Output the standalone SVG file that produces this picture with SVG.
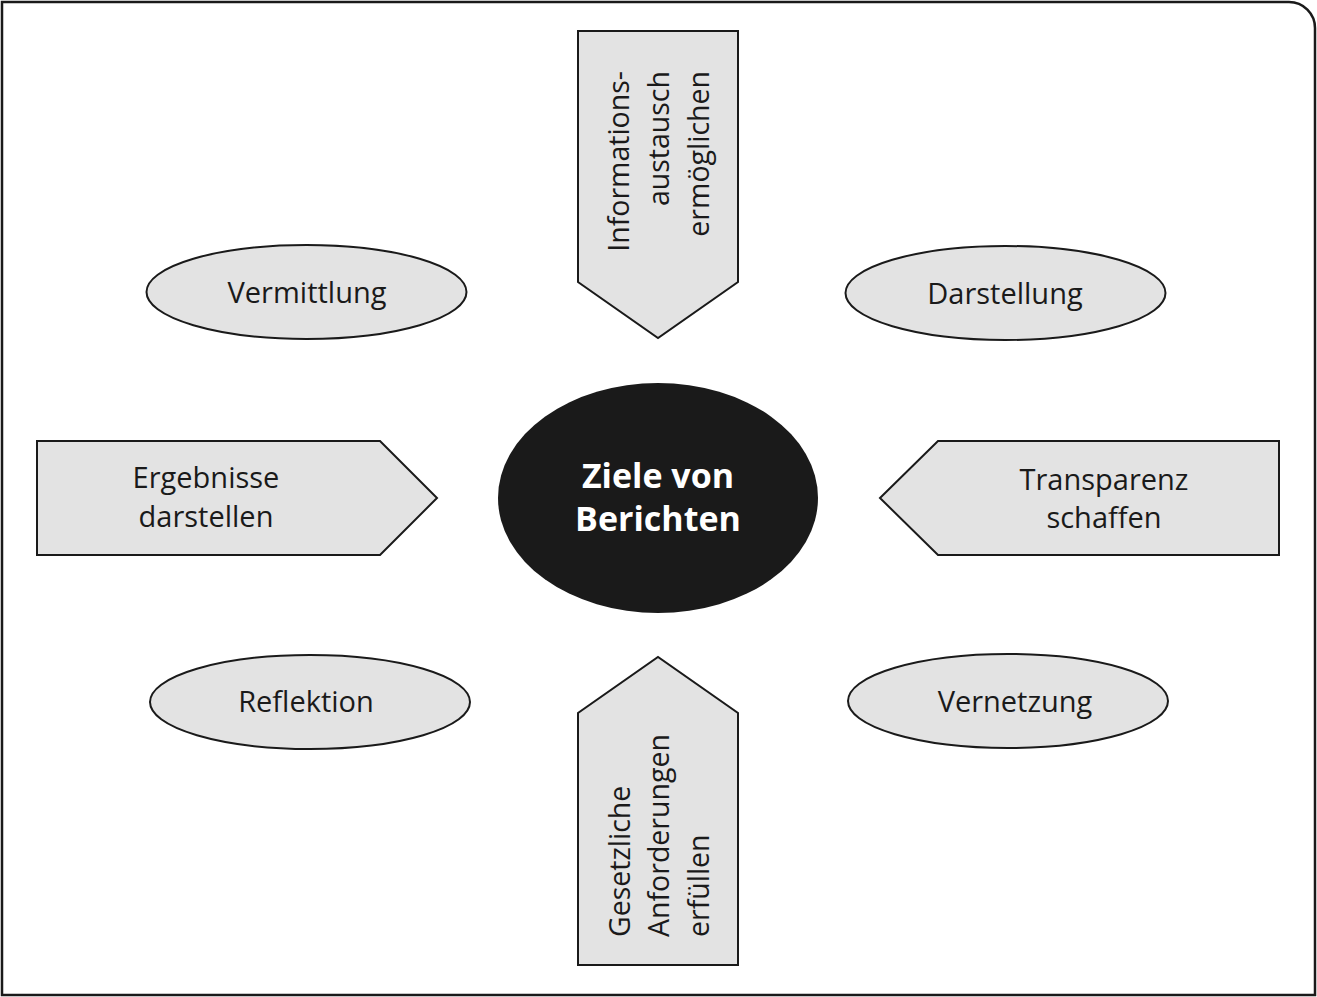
<svg xmlns="http://www.w3.org/2000/svg" width="1317" height="997" viewBox="0 0 1317 997">
<style>
.shape{fill:#e3e3e3;stroke:#1a1a1a;stroke-width:2}
.t{font-family:"Open Sans","Noto Sans",sans-serif;font-size:29px;fill:#1a1a1a;text-anchor:middle}
.r{font-family:"Open Sans","Noto Sans",sans-serif;font-size:28.5px;fill:#1a1a1a}
.c{font-family:"Open Sans","Noto Sans",sans-serif;font-size:34px;font-weight:bold;fill:#ffffff;text-anchor:middle}
</style>
<rect width="1317" height="997" fill="#ffffff"/>
<path d="M2,2 H1289 A26,26 0 0 1 1315,28 V995 H2 Z" fill="none" stroke="#1a1a1a" stroke-width="2.5"/>
<g id="center">
<ellipse cx="658" cy="498" rx="160" ry="115" fill="#1a1a1a"/>
<text class="c" x="658" y="488">Ziele von</text>
<text class="c" x="658" y="531">Berichten</text>
</g>
<g id="informationsaustausch">
<polygon class="shape" points="578,31 738,31 738,282 658,338 578,282"/>
<text class="r" text-anchor="end" transform="translate(629,71) rotate(-90)">Informations-</text>
<text class="r" text-anchor="end" transform="translate(669,71) rotate(-90)">austausch</text>
<text class="r" text-anchor="end" transform="translate(709,71) rotate(-90)">ermöglichen</text>
</g>
<g id="gesetzliche">
<polygon class="shape" points="578,965 738,965 738,713 658,657 578,713"/>
<text class="r" text-anchor="start" transform="translate(630,937) rotate(-90)">Gesetzliche</text>
<text class="r" text-anchor="start" transform="translate(669,937) rotate(-90)">Anforderungen</text>
<text class="r" text-anchor="start" transform="translate(709,937) rotate(-90)">erfüllen</text>
</g>
<g id="ergebnisse">
<polygon class="shape" points="37,441 380,441 437,498 380,555 37,555"/>
<text class="t" x="206" y="488">Ergebnisse</text>
<text class="t" x="206" y="527">darstellen</text>
</g>
<g id="transparenz">
<polygon class="shape" points="880,498 938,441 1279,441 1279,555 938,555"/>
<text class="t" x="1104" y="490">Transparenz</text>
<text class="t" x="1104" y="528">schaffen</text>
</g>
<g id="vermittlung">
<ellipse class="shape" cx="306.5" cy="292" rx="160" ry="47"/>
<text class="t" x="307" y="303">Vermittlung</text>
</g>
<g id="darstellung">
<ellipse class="shape" cx="1005.5" cy="293" rx="160" ry="47"/>
<text class="t" x="1005" y="304">Darstellung</text>
</g>
<g id="reflektion">
<ellipse class="shape" cx="310" cy="702" rx="160" ry="47"/>
<text class="t" x="306" y="712">Reflektion</text>
</g>
<g id="vernetzung">
<ellipse class="shape" cx="1008" cy="701" rx="160" ry="47"/>
<text class="t" x="1015" y="712">Vernetzung</text>
</g>
<g id="connectors"></g>
</svg>
